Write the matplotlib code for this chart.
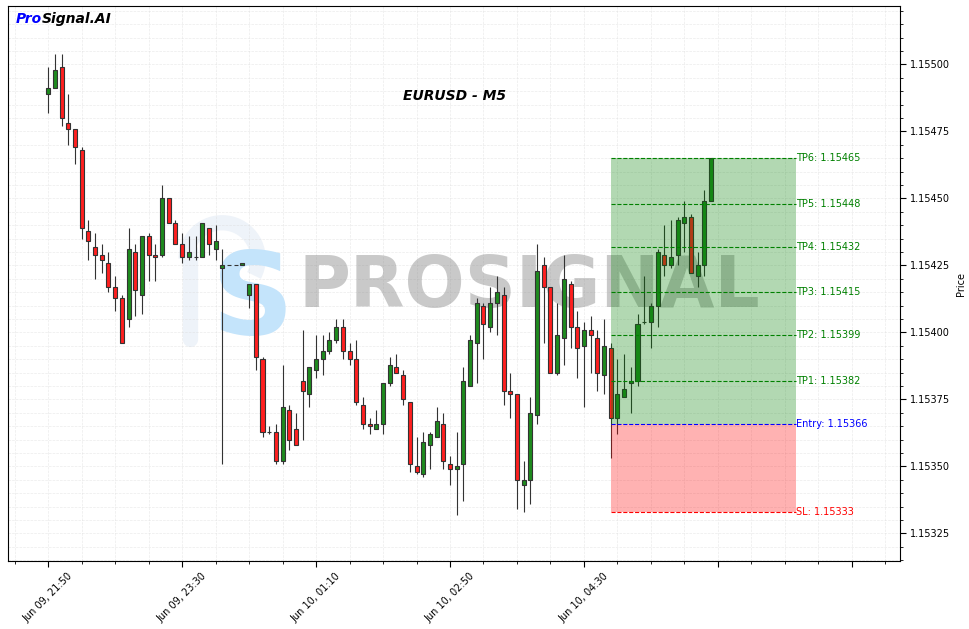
import matplotlib
matplotlib.use("Agg")
import matplotlib.pyplot as plt
from matplotlib.patches import Arc
import numpy as np
import pandas as pd

# EURUSD M5 candles (index 0 = Jun 09 21:50)
opens = [1.15489, 1.15491, 1.15499, 1.15478, 1.15476, 1.15468, 1.15438, 1.15432, 1.15429, 1.15426,
         1.15417, 1.15413, 1.15405, 1.15430, 1.15414, 1.15436, 1.15429, 1.15429, 1.15450, 1.15441,
         1.15433, 1.15428, 1.15428, 1.15428, 1.15439, 1.15431, 1.15424, 1.15425, 1.15425, 1.15425,
         1.15414, 1.15418, 1.15390, 1.15363, 1.15363, 1.15352, 1.15371, 1.15364, 1.15382, 1.15377,
         1.15386, 1.15390, 1.15393, 1.15397, 1.15402, 1.15393, 1.15390, 1.15373, 1.15366, 1.15364,
         1.15366, 1.15381, 1.15387, 1.15384, 1.15374, 1.15350, 1.15347, 1.15358, 1.15361, 1.15366,
         1.15351, 1.15349, 1.15351, 1.15380, 1.15396, 1.15410, 1.15402, 1.15411, 1.15414, 1.15378,
         1.15377, 1.15343, 1.15345, 1.15369, 1.15425, 1.15417, 1.15385, 1.15398, 1.15418, 1.15402,
         1.15395, 1.15401, 1.15398, 1.15384, 1.15394, 1.15368, 1.15376, 1.15381, 1.15382, 1.15404,
         1.15404, 1.15410, 1.15429, 1.15425, 1.15429, 1.15441, 1.15443, 1.15421, 1.15425, 1.15449]
highs = [1.15499, 1.15504, 1.15504, 1.15489, 1.15476, 1.15469, 1.15442, 1.15437, 1.15433, 1.15430,
         1.15421, 1.15414, 1.15439, 1.15433, 1.15436, 1.15437, 1.15433, 1.15455, 1.15450, 1.15442,
         1.15437, 1.15436, 1.15436, 1.15441, 1.15439, 1.15440, 1.15431, 1.15425, 1.15425, 1.15426,
         1.15418, 1.15418, 1.15391, 1.15365, 1.15366, 1.15388, 1.15373, 1.15370, 1.15401, 1.15387,
         1.15399, 1.15399, 1.15400, 1.15405, 1.15405, 1.15396, 1.15397, 1.15376, 1.15368, 1.15371,
         1.15381, 1.15391, 1.15392, 1.15386, 1.15374, 1.15361, 1.15363, 1.15363, 1.15372, 1.15370,
         1.15354, 1.15363, 1.15387, 1.15399, 1.15413, 1.15411, 1.15417, 1.15421, 1.15417, 1.15385,
         1.15377, 1.15352, 1.15376, 1.15433, 1.15428, 1.15417, 1.15411, 1.15429, 1.15419, 1.15408,
         1.15404, 1.15406, 1.15401, 1.15405, 1.15396, 1.15390, 1.15392, 1.15387, 1.15407, 1.15421,
         1.15411, 1.15431, 1.15440, 1.15442, 1.15443, 1.15449, 1.15444, 1.15430, 1.15453, 1.15465]
lows = [1.15482, 1.15491, 1.15477, 1.15470, 1.15463, 1.15435, 1.15427, 1.15420, 1.15422, 1.15415,
        1.15408, 1.15396, 1.15402, 1.15406, 1.15407, 1.15419, 1.15419, 1.15428, 1.15441, 1.15433,
        1.15426, 1.15427, 1.15427, 1.15428, 1.15429, 1.15427, 1.15351, 1.15425, 1.15425, 1.15425,
        1.15409, 1.15386, 1.15361, 1.15362, 1.15351, 1.15351, 1.15356, 1.15358, 1.15360, 1.15372,
        1.15383, 1.15384, 1.15392, 1.15396, 1.15390, 1.15388, 1.15373, 1.15364, 1.15362, 1.15364,
        1.15362, 1.15380, 1.15385, 1.15373, 1.15348, 1.15347, 1.15346, 1.15349, 1.15361, 1.15349,
        1.15343, 1.15332, 1.15337, 1.15380, 1.15381, 1.15390, 1.15400, 1.15399, 1.15373, 1.15368,
        1.15334, 1.15333, 1.15336, 1.15366, 1.15396, 1.15385, 1.15384, 1.15388, 1.15394, 1.15383,
        1.15372, 1.15385, 1.15378, 1.15377, 1.15353, 1.15362, 1.15376, 1.15370, 1.15380, 1.15403,
        1.15394, 1.15402, 1.15421, 1.15424, 1.15425, 1.15430, 1.15422, 1.15417, 1.15421, 1.15449]
closes = [1.15491, 1.15498, 1.15480, 1.15476, 1.15469, 1.15439, 1.15434, 1.15429, 1.15427, 1.15417,
          1.15413, 1.15396, 1.15431, 1.15416, 1.15436, 1.15429, 1.15428, 1.15450, 1.15441, 1.15433,
          1.15428, 1.15430, 1.15428, 1.15441, 1.15433, 1.15434, 1.15425, 1.15425, 1.15425, 1.15426,
          1.15418, 1.15391, 1.15363, 1.15363, 1.15352, 1.15372, 1.15360, 1.15358, 1.15378, 1.15387,
          1.15390, 1.15393, 1.15397, 1.15402, 1.15393, 1.15390, 1.15374, 1.15366, 1.15365, 1.15366,
          1.15381, 1.15388, 1.15385, 1.15375, 1.15351, 1.15348, 1.15359, 1.15362, 1.15367, 1.15352,
          1.15349, 1.15350, 1.15382, 1.15397, 1.15411, 1.15403, 1.15411, 1.15415, 1.15378, 1.15377,
          1.15345, 1.15345, 1.15370, 1.15423, 1.15417, 1.15385, 1.15399, 1.15420, 1.15402, 1.15394,
          1.15401, 1.15399, 1.15385, 1.15395, 1.15368, 1.15377, 1.15379, 1.15382, 1.15403, 1.15404,
          1.15410, 1.15430, 1.15425, 1.15428, 1.15442, 1.15443, 1.15422, 1.15425, 1.15449, 1.15465]

start_time = "2025-06-09 21:50"
tp_levels = [1.15382, 1.15399, 1.15415, 1.15432, 1.15448, 1.15465]
entry = 1.15366
sl = 1.15333
entry_idx = 84

times = pd.date_range(start_time, periods=len(opens), freq="5min")
o = np.array(opens)
h = np.array(highs)
l = np.array(lows)
c = np.array(closes)
x = np.arange(len(o))

fig = plt.figure(figsize=(9.69, 6.29), dpi=100)
ax = fig.add_axes([0.0083, 0.1081, 0.9205, 0.8816])

# watermark logo: faint outline + blue S, then the brand name
ax_w, ax_h = 892.0, 554.0
ax.plot([0.204, 0.204], [0.40, 0.56], transform=ax.transAxes, color="#eef3f9",
        linewidth=11, solid_capstyle="round", zorder=0.4)
ax.add_patch(Arc((0.240, 0.545), 2 * 36 / ax_w, 2 * 36 / ax_h, theta1=-40, theta2=180,
                 transform=ax.transAxes, color="#eef3f9", linewidth=11, zorder=0.4))
ax.text(0.274, 0.466, "S", transform=ax.transAxes, fontsize=82, fontweight="bold",
        color="#c4e4fb", ha="center", va="center", zorder=0.6)
ax.text(0.584, 0.494, "PROSIGNAL", transform=ax.transAxes, fontsize=51, fontweight="bold",
        color="#808080", alpha=0.42, ha="center", va="center", zorder=0.7)

# candles
colors = np.where(c >= o, "#1e8b1e", "#ff1f1f")
ax.vlines(x, l, h, color="#333333", linewidth=0.8, zorder=2)
ax.bar(x, c - o, bottom=o, width=0.6, color=colors, edgecolor="#333333",
       linewidth=0.8, zorder=3)

# trade zones
zone_end = entry_idx + 27.6
ax.fill_between([entry_idx, zone_end], entry, tp_levels[-1], color="green",
                alpha=0.3, linewidth=0, zorder=5)
ax.fill_between([entry_idx, zone_end], sl, entry, color="red",
                alpha=0.3, linewidth=0, zorder=5)

for i, lv in enumerate(tp_levels):
    ax.hlines(lv, entry_idx, zone_end, colors="green", linestyles="--",
              linewidth=0.8, zorder=6)
    ax.text(zone_end + 0.1, lv, f"TP{i + 1}: {lv:.5f}", color="green",
            fontsize=7, va="center", ha="left", zorder=6)
ax.hlines(entry, entry_idx, zone_end, colors="blue", linestyles="--",
          linewidth=0.8, zorder=6)
ax.text(zone_end + 0.1, entry, f"Entry: {entry:.5f}", color="blue",
        fontsize=7, va="center", ha="left", zorder=6)
ax.hlines(sl, entry_idx, zone_end, colors="red", linestyles="--",
          linewidth=0.8, zorder=6)
ax.text(zone_end + 0.1, sl, f"SL: {sl:.5f}", color="red",
        fontsize=7, va="center", ha="left", zorder=6)

# titles / branding
ax.text(0.5, 0.838, "EURUSD - M5", transform=ax.transAxes, fontsize=10,
        fontweight="bold", fontstyle="italic", ha="center", va="center", zorder=7)
t1 = ax.text(0.009, 0.978, "Pro", transform=ax.transAxes, fontsize=10,
             fontweight="bold", fontstyle="italic", color="blue", va="center", zorder=7)
ax.annotate("Signal.AI", xy=(1, 0), xycoords=t1, fontsize=10, fontweight="bold",
            fontstyle="italic", color="black", ha="left", va="bottom", zorder=7)

# axes
ax.set_xlim(-6, 127.2)
ax.set_ylim(1.153147, 1.155216)

major = np.arange(0, 121, 20)
labels = [times[i].strftime("%b %d, %H:%M") if i < len(times) else "" for i in major]
ax.set_xticks(major)
ax.set_xticklabels(labels, rotation=45, fontsize=7)
ax.set_xticks(np.arange(-5, 126, 5), minor=True)

ax.yaxis.tick_right()
ax.yaxis.set_label_position("right")
yt = np.arange(1.15325, 1.155001, 0.00025)
ax.set_yticks(yt)
ax.set_yticklabels([f"{v:.5f}" for v in yt], fontsize=7)
ax.set_yticks(np.arange(1.15315, 1.15522, 0.00005), minor=True)
ax.set_ylabel("Price", fontsize=7)
ax.tick_params(which="major", length=4)
ax.tick_params(which="minor", length=2)

ax.grid(True, which="both", color="#d8d8d8", linestyle="--", linewidth=0.5, alpha=0.5)
ax.set_axisbelow(True)

fig.savefig("out.png", dpi=100)
